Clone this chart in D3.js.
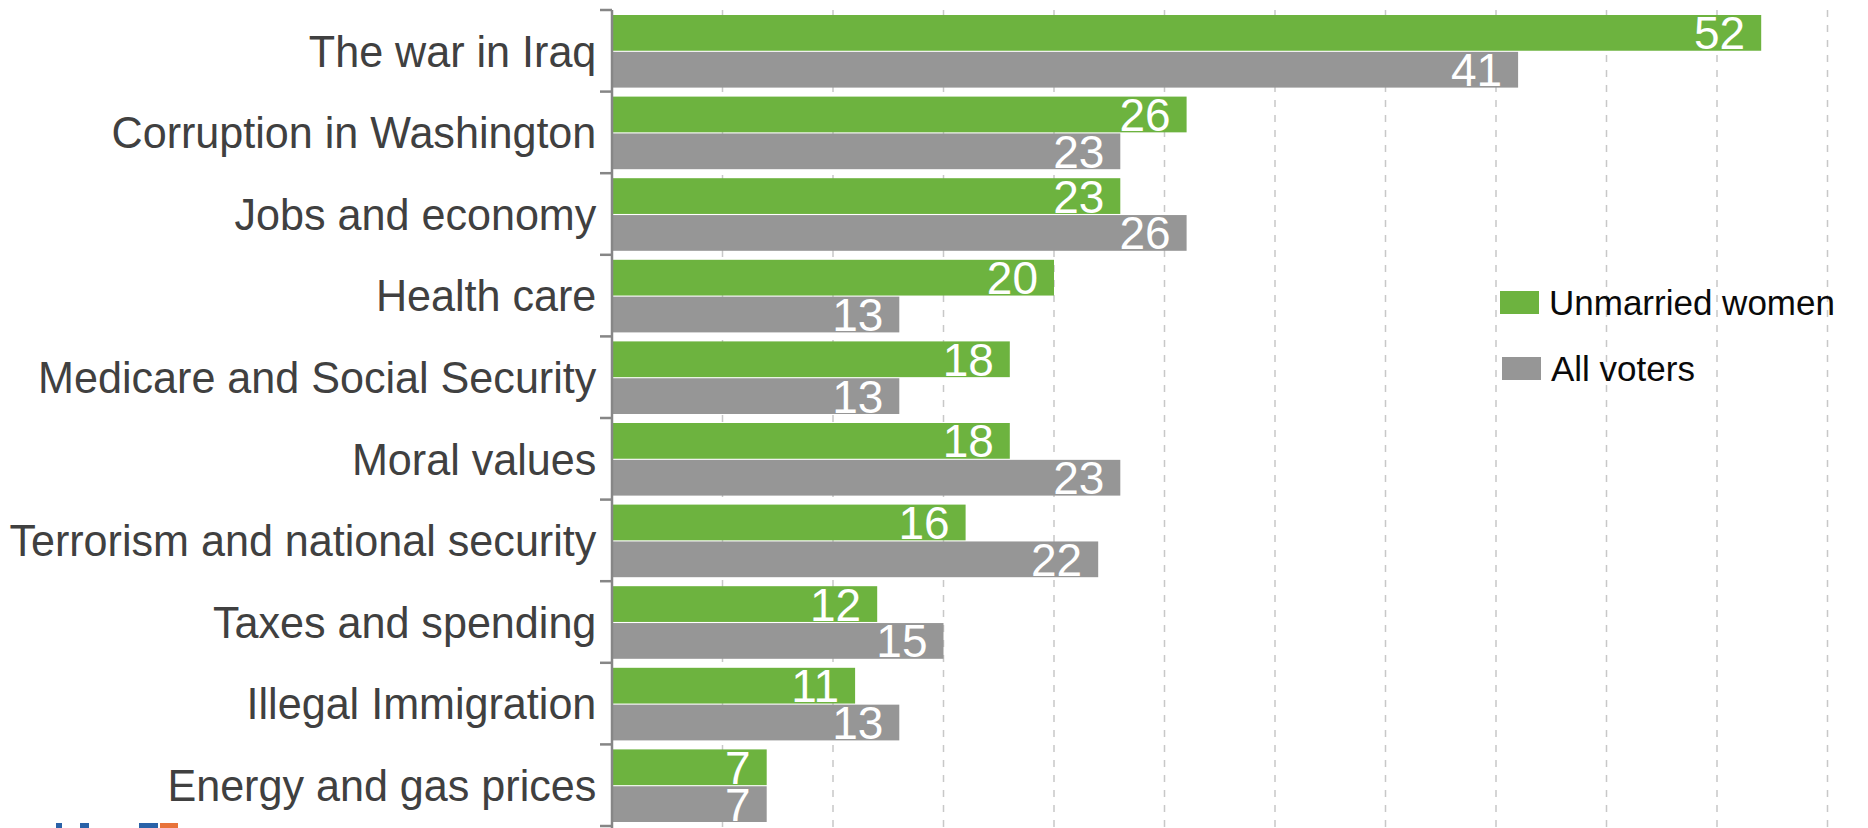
<!DOCTYPE html>
<html>
<head>
<meta charset="utf-8">
<script src="https://cdn.jsdelivr.net/npm/d3@7"></script>
<style>
  html, body { margin: 0; padding: 0; background: #fff; }
  svg { display: block; font-family: "Liberation Sans", Arial, sans-serif; }
</style>
</head>
<body>
<svg id="chart" width="1868" height="828"></svg>
<script>
const categories = [
  "The war in Iraq",
  "Corruption in Washington",
  "Jobs and economy",
  "Health care",
  "Medicare and Social Security",
  "Moral values",
  "Terrorism and national security",
  "Taxes and spending",
  "Illegal Immigration",
  "Energy and gas prices"
];
const seriesNames = ["Unmarried women", "All voters"];
const unmarriedWomen = [52, 26, 23, 20, 18, 18, 16, 12, 11, 7];
const allVoters = [41, 23, 26, 13, 13, 23, 22, 15, 13, 7];
const gridTicks = [5, 10, 15, 20, 25, 30, 35, 40, 45, 50, 55];
const colors = ["#6db33f", "#969696"];

const svg = d3.select("#chart");
const W = 1868, H = 828;
const x0 = 612, pxPerUnit = 22.1;
const x = d3.scaleLinear().domain([0, 60]).range([x0, x0 + 60 * pxPerUnit]);
const y = d3.scaleBand().domain(categories).range([10, 826]).padding(0);
const bw = y.bandwidth();
const ySub = d3.scaleBand().domain(seriesNames).range([5, bw - 4]).paddingInner(0.03);

const data = categories.map((c, i) => ({ cat: c, vals: [unmarriedWomen[i], allVoters[i]] }));

// gridlines
svg.append("g").selectAll("line").data(gridTicks).join("line")
  .attr("x1", d => x(d)).attr("x2", d => x(d))
  .attr("y1", 10).attr("y2", H)
  .attr("stroke", "#c8c8c8").attr("stroke-width", 1.5)
  .attr("stroke-dasharray", "7,8");

// bars
const groups = svg.append("g").selectAll("g").data(data).join("g")
  .attr("transform", d => `translate(0,${y(d.cat)})`);

groups.selectAll("rect").data(d => d.vals.map((v, j) => ({ v, s: seriesNames[j], j }))).join("rect")
  .attr("x", x(0))
  .attr("y", d => ySub(d.s))
  .attr("width", d => x(d.v) - x(0))
  .attr("height", ySub.bandwidth())
  .attr("fill", d => colors[d.j]);

groups.selectAll("text").data(d => d.vals.map((v, j) => ({ v, s: seriesNames[j], j }))).join("text")
  .attr("x", d => x(d.v) - 16)
  .attr("y", d => ySub(d.s) + ySub.bandwidth() / 2)
  .attr("dy", "0.36em")
  .attr("text-anchor", "end")
  .attr("fill", "#ffffff")
  .attr("font-size", 46)
  .text(d => d.v);

// y axis
const axis = d3.axisLeft(y).tickSize(0).tickPadding(16);
const gAxis = svg.append("g").attr("transform", `translate(${x0},0)`).call(axis);
gAxis.select(".domain").remove();
gAxis.selectAll("text")
  .attr("font-size", 44)
  .attr("font-family", "'Liberation Sans', Arial, sans-serif")
  .attr("fill", "#404040")
  .attr("dy", "0.36em")
  .attr("transform", "scale(0.98,1)");

// axis line and boundary ticks
svg.append("line")
  .attr("x1", x0).attr("x2", x0).attr("y1", 10).attr("y2", H)
  .attr("stroke", "#868686").attr("stroke-width", 2.5);
const boundaries = categories.map(c => y(c)).concat([y(categories[categories.length - 1]) + bw]);
svg.append("g").selectAll("line").data(boundaries).join("line")
  .attr("x1", x0 - 12).attr("x2", x0)
  .attr("y1", d => d).attr("y2", d => d)
  .attr("stroke", "#868686").attr("stroke-width", 2.5);

// legend
const legend = svg.append("g").attr("transform", "translate(1500,291)");
const li = legend.selectAll("g").data(seriesNames).join("g")
  .attr("transform", (d, i) => `translate(${i * 2},${i * 66})`);
li.append("rect").attr("width", 39).attr("height", 23).attr("fill", (d, i) => colors[i]);
li.append("text").attr("x", 49).attr("y", 24).attr("font-size", 35)
  .attr("fill", "#0a0a0a").text(d => d);

// cropped logo fragment at bottom-left
const logo = svg.append("g");
[[56, 6, "#2a62a8"], [80, 9, "#2a62a8"], [139, 19, "#2a62a8"], [160, 18, "#e8733a"]].forEach(([lx, lw, c]) => {
  logo.append("rect").attr("x", lx).attr("y", 823).attr("width", lw).attr("height", 5).attr("fill", c);
});
</script>
</body>
</html>
